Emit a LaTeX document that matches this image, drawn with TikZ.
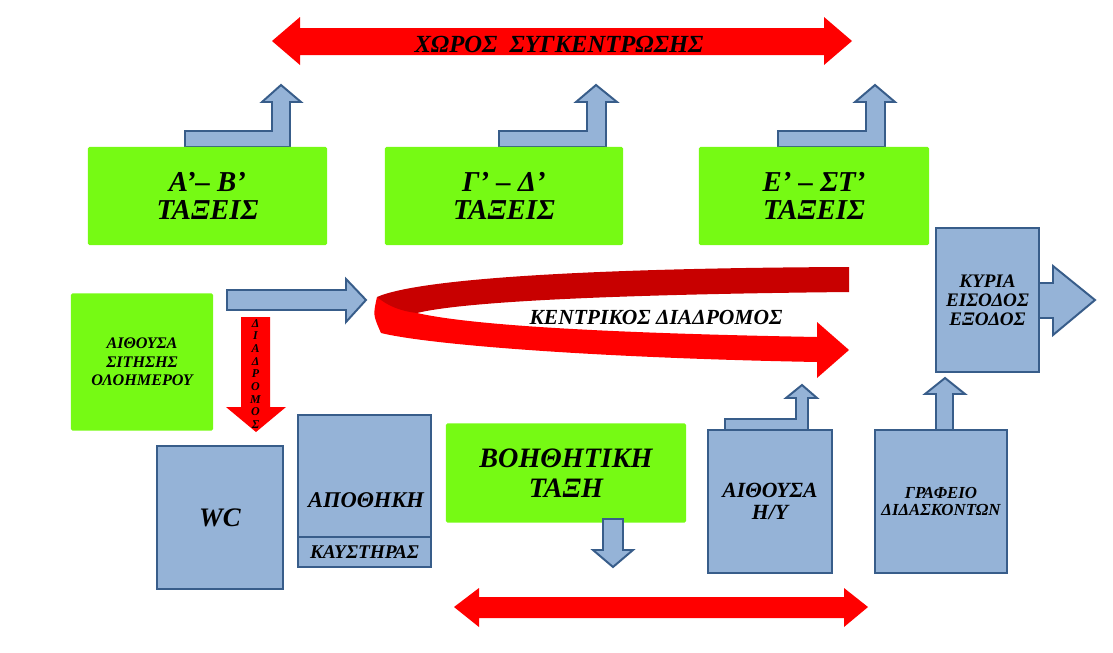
\documentclass[tikz,border=0pt]{standalone}
\usepackage{fontspec}
\setmainfont{Liberation Serif}
\definecolor{lime}{RGB}{118,250,20}
\definecolor{boxblue}{RGB}{149,179,215}
\definecolor{boxedge}{RGB}{56,93,138}
\definecolor{darkred}{RGB}{200,0,0}
\tikzset{
  greenbox/.style={rectangle, fill=lime, rounded corners=1pt, inner sep=0pt, align=center, font=\bfseries\itshape},
  bluebox/.style={rectangle, fill=boxblue, draw=boxedge, line width=1.6pt, inner sep=0pt, align=center, font=\bfseries\itshape},
  bluearrow/.style={fill=boxblue, draw=boxedge, line width=1.4pt, line join=miter},
  redarrow/.style={fill=red},
  label/.style={align=center, font=\bfseries\itshape}
}
\begin{document}
\begin{tikzpicture}[x=0.025cm, y=-0.025cm]
\useasboundingbox (0,0) rectangle (1113,652);
% top red arrow
\path[redarrow] (272,41) -- (300,17) -- (300,28) -- (824,28) -- (824,17) -- (852,41) -- (824,65) -- (824,55) -- (300,55) -- (300,65) -- cycle;
\node[label, font=\bfseries\itshape\fontsize{17.5}{17.5}\selectfont] (assembly) at (559,44) {ΧΩΡΟΣ\ \ ΣΥΓΚΕΝΤΡΩΣΗΣ};
% bent arrows up
\path[bluearrow] (185,147) -- (290,147) -- (290,102) -- (301,102) -- (281,85) -- (262,102) -- (272,102) -- (272,131) -- (185,131) -- cycle;
\path[bluearrow] (499,147) -- (606,147) -- (606,102) -- (617,102) -- (596,85) -- (576,102) -- (587,102) -- (587,131) -- (499,131) -- cycle;
\path[bluearrow] (778,147) -- (885,147) -- (885,102) -- (895,102) -- (875,85) -- (855,102) -- (866,102) -- (866,131) -- (778,131) -- cycle;
% classes
\node[greenbox, minimum width=5.975cm, minimum height=2.45cm, font=\bfseries\itshape\fontsize{20.5}{20}\selectfont] (ab) at (207.5,196) {Α’– Β’\\ΤΑΞΕΙΣ};
\node[greenbox, minimum width=5.95cm, minimum height=2.45cm, font=\bfseries\itshape\fontsize{20.5}{20}\selectfont] (gd) at (504,196) {Γ’ – Δ’\\ΤΑΞΕΙΣ};
\node[greenbox, minimum width=5.75cm, minimum height=2.45cm, font=\bfseries\itshape\fontsize{20.5}{20}\selectfont] (est) at (814,196) {Ε’ – ΣΤ’\\ΤΑΞΕΙΣ};
\node[greenbox, minimum width=3.55cm, minimum height=3.425cm, font=\bfseries\itshape\fontsize{11.5}{13}\selectfont] (dining) at (142,362) {ΑΙΘΟΥΣΑ\\ΣΙΤΗΣΗΣ\\ΟΛΟΗΜΕΡΟΥ};
% corridor arrows
\path[bluearrow] (227,290) -- (346,290) -- (346,279) -- (366,300) -- (346,322) -- (346,310) -- (227,310) -- cycle;
\path[redarrow] (241,317) -- (270,317) -- (270,407) -- (286,407) -- (256,432) -- (226,407) -- (241,407) -- cycle;
\node[label, font=\bfseries\itshape\fontsize{8.5}{9}\selectfont] (hall) at (255.5,374) {Δ\\Ι\\Α\\Δ\\Ρ\\Ο\\Μ\\Ο\\Σ};
\fill[red] (377,297) .. controls (373,315) .. (381,333) .. controls (430,345) and (600,358) .. (817,362) -- (817,378) -- (849,350) -- (817,322) -- (817,337) .. controls (600,333) and (470,325) .. (417,313) -- cycle;
\fill[darkred] (849,267) .. controls (600,268) and (420,278) .. (377,297) .. controls (388,306) and (400,311) .. (417,313) .. controls (470,300) and (650,294) .. (849,292) -- cycle;
\node[label, font=\bfseries\itshape\fontsize{15.3}{15}\selectfont] (corridor) at (656,317) {ΚΕΝΤΡΙΚΟΣ ΔΙΑΔΡΟΜΟΣ};
% entrance
\path[bluearrow] (1000,283) -- (1053,283) -- (1053,266) -- (1095,300) -- (1053,335) -- (1053,318) -- (1000,318) -- cycle;
\node[bluebox, minimum width=2.575cm, minimum height=3.6cm, font=\bfseries\itshape\fontsize{13.6}{13.5}\selectfont] (entrance) at (987.5,300) {ΚΥΡΙΑ\\ΕΙΣΟΔΟΣ\\ΕΞΟΔΟΣ};
% bottom rooms
\node[bluebox, minimum width=3.15cm, minimum height=3.575cm, font=\bfseries\itshape\fontsize{19}{18}\selectfont] (wc) at (220,517.5) {WC};
\node[bluebox, minimum width=3.325cm, minimum height=3.05cm] (store) at (364.5,476) {};
\node[label, font=\bfseries\itshape\fontsize{16}{16}\selectfont] (storetxt) at (366,500) {ΑΠΟΘΗΚΗ};
\node[bluebox, minimum width=3.325cm, minimum height=0.75cm, font=\bfseries\itshape\fontsize{13.8}{12}\selectfont] (burner) at (364.5,552) {ΚΑΥΣΤΗΡΑΣ};
\node[greenbox, minimum width=6cm, minimum height=2.475cm, font=\bfseries\itshape\fontsize{20}{21}\selectfont] (aux) at (566,473) {ΒΟΗΘΗΤΙΚΗ\\ΤΑΞΗ};
\path[bluearrow] (603,519) -- (623,519) -- (623,550) -- (633,550) -- (613,567) -- (593,550) -- (603,550) -- cycle;
\path[bluearrow] (725,430) -- (808,430) -- (808,398) -- (817,398) -- (802,385) -- (786,398) -- (796,398) -- (796,419) -- (725,419) -- cycle;
\node[bluebox, minimum width=3.1cm, minimum height=3.575cm, font=\bfseries\itshape\fontsize{15.4}{16}\selectfont] (pc) at (770,501.5) {ΑΙΘΟΥΣΑ\\Η/Υ};
\path[bluearrow] (936,430) -- (936,394) -- (925,394) -- (945,378) -- (965,394) -- (953,394) -- (953,430) -- cycle;
\node[bluebox, minimum width=3.3cm, minimum height=3.575cm, font=\bfseries\itshape\fontsize{12}{12}\selectfont] (office) at (941,501.5) {ΓΡΑΦΕΙΟ\\ΔΙΔΑΣΚΟΝΤΩΝ};
% bottom red arrow
\path[redarrow] (454,607) -- (479,588) -- (479,597) -- (844,597) -- (844,588) -- (868,607) -- (844,627) -- (844,618) -- (479,618) -- (479,627) -- cycle;
\end{tikzpicture}
\end{document}
